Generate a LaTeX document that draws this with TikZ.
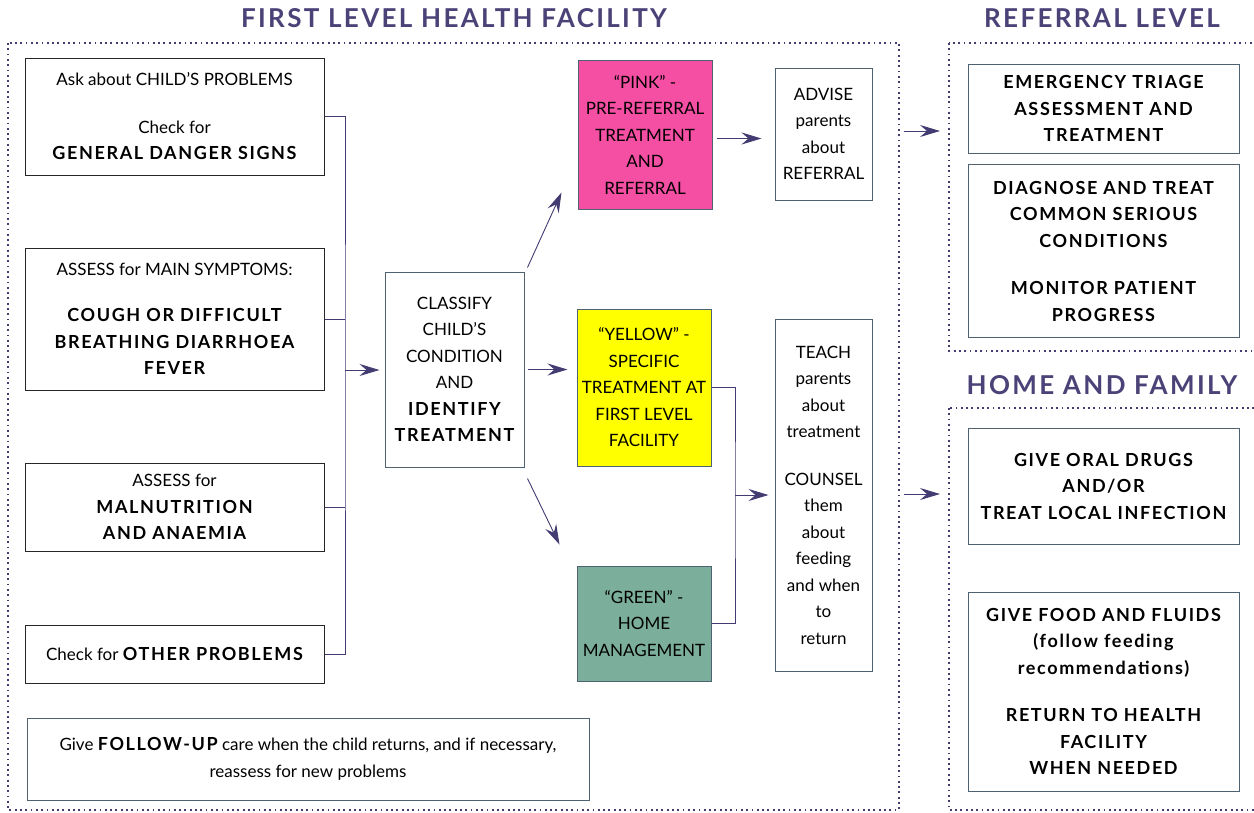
\documentclass[tikz,border=0pt]{standalone}
\usepackage{fontspec}
\setmainfont{Lato}[BoldFeatures={LetterSpace=9}]
\usetikzlibrary{arrows.meta}
\definecolor{linkpurple}{HTML}{433C72}
\definecolor{titlepurple}{HTML}{4B4278}
\definecolor{edgegray}{HTML}{4F6272}
\definecolor{pinkfill}{HTML}{F54FA4}
\definecolor{yellowfill}{HTML}{FFFF00}
\definecolor{greenfill}{HTML}{7BAE9B}
\newcommand{\bigbold}[1]{{\fontsize{18}{26.5}\selectfont\bfseries #1}}
\begin{document}
\begin{tikzpicture}[x=1pt, y=-1pt,
    every node/.style={font=\fontsize{17}{26.5}\selectfont, align=center, inner sep=0pt},
    askbox/.style={draw=black!85, line width=1pt, minimum width=299pt},
    stepbox/.style={draw=edgegray, line width=1pt},
    link/.style={draw=linkpurple, line width=0.9pt},
    arrow/.style={link, -{Stealth[length=20pt, width=12pt, inset=7pt]}},
    frame/.style={draw=linkpurple, line width=1.8pt, dash pattern=on 1.8pt off 3.5pt},
    heading/.style={text=titlepurple, font=\fontsize{26}{30}\selectfont\bfseries}]
  \useasboundingbox (0,0) rectangle (1254,812);
  \fill[white] (0,0) rectangle (1254,812);

  %% frames and headings
  \draw[frame] (8,43) rectangle (899,810);
  \draw[frame] (949,43) rectangle (1264,351);
  \draw[frame] (949,408) rectangle (1264,810);
  \node[heading] (firsttitle) at (454,18) {FIRST LEVEL HEALTH FACILITY};
  \node[heading] (refertitle) at (1102,18) {REFERRAL LEVEL};
  \node[heading] (hometitle) at (1102,385) {HOME AND FAMILY};
  \coordinate (referral) at (949,131);
  \coordinate (home) at (949,494);

  %% assess column
  \node[askbox, minimum height=117pt] (ask) at (174.5,116.5)
    {Ask about CHILD’S PROBLEMS\\[21pt]Check for\\\bigbold{GENERAL DANGER SIGNS}};
  \node[askbox, minimum height=142pt] (symptoms) at (174.5,319)
    {ASSESS for MAIN SYMPTOMS:\\[19.5pt]\bigbold{COUGH OR DIFFICULT}\\\bigbold{BREATHING DIARRHOEA}\\\bigbold{FEVER}};
  \node[askbox, minimum height=88pt] (nutrition) at (174.5,507)
    {ASSESS for\\\bigbold{MALNUTRITION}\\\bigbold{AND ANAEMIA}};
  \node[askbox, minimum height=58pt] (other) at (174.5,654)
    {Check for \bigbold{OTHER PROBLEMS}};
  \node[stepbox, minimum width=562pt, minimum height=82pt] (followup) at (308,759)
    {Give \bigbold{FOLLOW-UP} care when the child returns, and if necessary,\\reassess for new problems};

  %% classify
  \node[stepbox, minimum width=139pt, minimum height=195pt] (classify) at (454.5,369.5)
    {CLASSIFY\\CHILD’S\\CONDITION\\AND\\\bigbold{IDENTIFY}\\\bigbold{TREATMENT}};

  %% treatment
  \node[stepbox, fill=pinkfill, minimum width=134pt, minimum height=149pt] (pink) at (645,134.5)
    {“PINK” -\\PRE-REFERRAL\\TREATMENT\\AND\\REFERRAL};
  \node[stepbox, fill=yellowfill, minimum width=134pt, minimum height=157pt] (yellow) at (644,387.5)
    {“YELLOW” -\\SPECIFIC\\TREATMENT AT\\FIRST LEVEL\\FACILITY};
  \node[stepbox, fill=greenfill, minimum width=134pt, minimum height=115pt] (green) at (644,623.5)
    {“GREEN” -\\HOME\\MANAGEMENT};

  %% counsel
  \node[stepbox, minimum width=97pt, minimum height=132pt] (advise) at (823.5,134)
    {ADVISE\\parents\\about\\REFERRAL};
  \node[stepbox, minimum width=97pt, minimum height=352pt] (teach) at (823.5,495)
    {TEACH\\parents\\about\\treatment\\[21pt]COUNSEL\\them\\about\\feeding\\and when\\to\\return};

  %% referral level
  \node[stepbox, minimum width=271pt, minimum height=89pt] (triage) at (1103.5,108.5)
    {\bigbold{EMERGENCY TRIAGE}\\\bigbold{ASSESSMENT AND}\\\bigbold{TREATMENT}};
  \node[stepbox, minimum width=271pt, minimum height=173pt] (diagnose) at (1103.5,251)
    {\bigbold{DIAGNOSE AND TREAT}\\\bigbold{COMMON SERIOUS}\\\bigbold{CONDITIONS}\\[21pt]\bigbold{MONITOR PATIENT}\\\bigbold{PROGRESS}};

  %% home and family
  \node[stepbox, minimum width=271pt, minimum height=116pt] (drugs) at (1103.5,486)
    {\bigbold{GIVE ORAL DRUGS}\\\bigbold{AND/OR}\\\bigbold{TREAT LOCAL INFECTION}};
  \node[stepbox, minimum width=271pt, minimum height=199pt] (food) at (1103.5,691.5)
    {\bigbold{GIVE FOOD AND FLUIDS}\\\bigbold{(follow feeding}\\\bigbold{recommendations)}\\[21pt]\bigbold{RETURN TO HEALTH}\\\bigbold{FACILITY}\\\bigbold{WHEN NEEDED}};

  %% connectors
  \coordinate (bus) at (345,370);
  \draw[link] (ask.east) -| (bus) |- (other.east);
  \draw[link] (symptoms.east) -- (symptoms.east -| bus);
  \draw[link] (nutrition.east) -- (nutrition.east -| bus);
  \draw[arrow, shorten >=5pt] (bus) -- (classify.west |- bus);

  \draw[arrow] ([shift={(3,-4)}]classify.north east) -- ([shift={(-16,-17)}]pink.south west);
  \draw[arrow, shorten <=3pt, shorten >=9pt] (classify.east) -- (classify.east -| yellow.west);
  \draw[arrow] ([shift={(3,11)}]classify.south east) -- ([shift={(-17,-21)}]green.north west);

  \draw[arrow, shorten <=4pt, shorten >=13pt] ([yshift=-4pt]pink.east) -- ([yshift=-4pt]pink.east -| advise.west);
  \coordinate (merge) at (735,495);
  \draw[link] (yellow.east) -| (merge) |- (green.east);
  \draw[arrow, shorten >=6pt] (merge) -- (teach.west);

  \draw[arrow, shorten <=31pt, shorten >=9pt] (advise.east |- referral) -- (referral);
  \draw[arrow, shorten <=31pt, shorten >=9pt] (teach.east |- home) -- (home);
\end{tikzpicture}
\end{document}
